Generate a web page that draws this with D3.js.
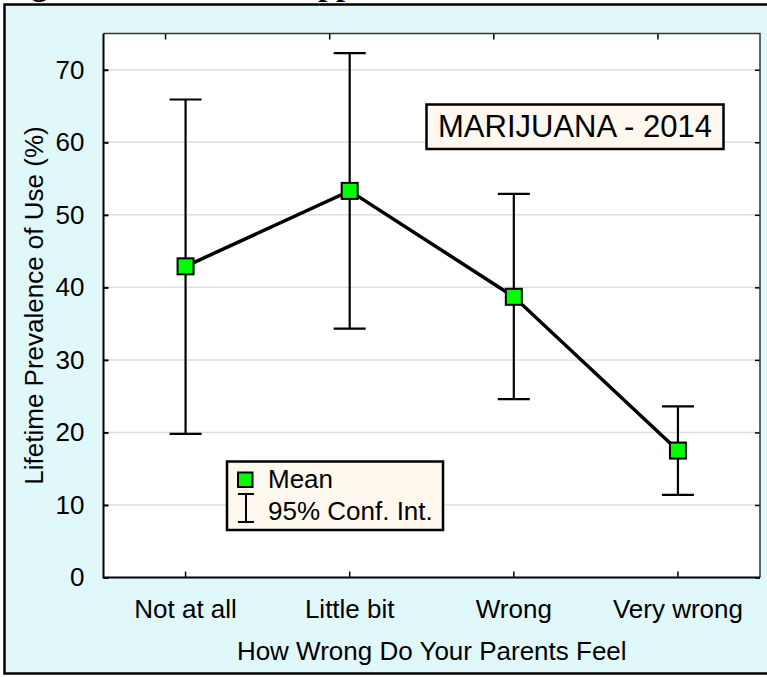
<!DOCTYPE html>
<html>
<head>
<meta charset="utf-8">
<script src="https://cdn.jsdelivr.net/npm/d3@7"></script>
<style>
  body { margin: 0; background: #fff; }
  svg text { font-family: "Liberation Sans", Arial, sans-serif; fill: #000; }
  .axis path.domain { display: none; }
</style>
</head>
<body>
<div id="chart"></div>
<script>
// Data
const categories = ["Not at all", "Little bit", "Wrong", "Very wrong"];
const means = [42.9, 53.3, 38.7, 17.5];
const upperCI = [65.9, 72.3, 52.9, 23.6];
const lowerCI = [19.8, 34.3, 24.6, 11.4];
const yTicks = [0, 10, 20, 30, 40, 50, 60, 70];

const W = 767, H = 677;
const plot = { left: 103.5, right: 760, top: 33.5, bottom: 577.5 };

const rows = categories.map((c, i) => ({ cat: c, mean: means[i], hi: upperCI[i], lo: lowerCI[i] }));

const svg = d3.select("#chart").append("svg")
    .attr("width", W)
    .attr("height", H);

// cut-off figure title above the frame
svg.append("text")
    .attr("x", 3)
    .attr("y", -5)
    .style("font-family", "'Liberation Serif', 'Times New Roman', serif")
    .style("font-weight", "bold")
    .style("font-size", "32px")
    .text("Figure 7. Parental Disapproval of Use, 2014");

// outer frame
svg.append("rect")
    .attr("x", 4.5)
    .attr("y", 4.5)
    .attr("width", 800)
    .attr("height", 669)
    .attr("fill", "#e0f8f9")
    .attr("stroke", "#000")
    .attr("stroke-width", 2.5);

// plot area
svg.append("rect")
    .attr("x", plot.left)
    .attr("y", plot.top)
    .attr("width", plot.right - plot.left)
    .attr("height", plot.bottom - plot.top)
    .attr("fill", "#fff");

const x = d3.scaleBand().domain(categories).range([plot.left, plot.right]).padding(0);
const y = d3.scaleLinear().domain([0, 75]).range([plot.bottom, plot.top]);
const cx = d => x(d) + x.bandwidth() / 2;

// gridlines
svg.append("g")
    .selectAll("line")
    .data(yTicks.filter(t => t > 0))
    .join("line")
    .attr("x1", plot.left)
    .attr("x2", plot.right)
    .attr("y1", d => y(d))
    .attr("y2", d => y(d))
    .attr("stroke", "#dedede")
    .attr("stroke-width", 1.5);

// left axis
const yAxis = svg.append("g")
    .attr("class", "axis")
    .attr("transform", `translate(${plot.left},0)`)
    .call(d3.axisLeft(y).tickValues(yTicks).tickSize(-5).tickPadding(19));
yAxis.selectAll("line").attr("stroke", "#000").attr("stroke-width", 2);
yAxis.selectAll("text").style("font-size", "26px");

// right axis ticks
const rAxis = svg.append("g")
    .attr("class", "axis")
    .attr("transform", `translate(${plot.right},0)`)
    .call(d3.axisRight(y).tickValues(yTicks).tickSize(-5).tickFormat(""));
rAxis.selectAll("line").attr("stroke", "#000").attr("stroke-width", 1.5);

// bottom axis
const xAxis = svg.append("g")
    .attr("class", "axis")
    .attr("transform", `translate(0,${plot.bottom})`)
    .call(d3.axisBottom(x).tickSize(-6).tickPadding(22));
xAxis.selectAll("line").attr("stroke", "#000").attr("stroke-width", 1.5);
xAxis.selectAll("text").style("font-size", "26px");

// top axis ticks (sit a little left of the categories in the original)
const tAxis = svg.append("g")
    .attr("class", "axis")
    .attr("transform", `translate(-20,${plot.top})`)
    .call(d3.axisTop(x).tickSize(-6).tickFormat(""));
tAxis.selectAll("line").attr("stroke", "#000").attr("stroke-width", 1.5);

// plot border
svg.append("path")
    .attr("d", `M${plot.left},${plot.top}H${plot.right}V${plot.bottom}`)
    .attr("fill", "none")
    .attr("stroke", "#333")
    .attr("stroke-width", 1.5);
svg.append("path")
    .attr("d", `M${plot.left},${plot.top}V${plot.bottom}H${plot.right}`)
    .attr("fill", "none")
    .attr("stroke", "#000")
    .attr("stroke-width", 2);

// axis titles
svg.append("text")
    .attr("transform", `translate(43,${(plot.top + plot.bottom) / 2}) rotate(-90)`)
    .attr("text-anchor", "middle")
    .style("font-size", "26px")
    .text("Lifetime Prevalence of Use (%)");

svg.append("text")
    .attr("x", (plot.left + plot.right) / 2)
    .attr("y", 660)
    .attr("text-anchor", "middle")
    .style("font-size", "26px")
    .text("How Wrong Do Your Parents Feel");

// error bars
const capW = 16;
const bars = svg.append("g").attr("stroke", "#000").attr("stroke-width", 2.2);
bars.selectAll(".whisker")
    .data(rows)
    .join("line")
    .attr("class", "whisker")
    .attr("x1", d => cx(d.cat))
    .attr("x2", d => cx(d.cat))
    .attr("y1", d => y(d.hi))
    .attr("y2", d => y(d.lo));
bars.selectAll(".capHi")
    .data(rows)
    .join("line")
    .attr("class", "capHi")
    .attr("x1", d => cx(d.cat) - capW)
    .attr("x2", d => cx(d.cat) + capW)
    .attr("y1", d => y(d.hi))
    .attr("y2", d => y(d.hi));
bars.selectAll(".capLo")
    .data(rows)
    .join("line")
    .attr("class", "capLo")
    .attr("x1", d => cx(d.cat) - capW)
    .attr("x2", d => cx(d.cat) + capW)
    .attr("y1", d => y(d.lo))
    .attr("y2", d => y(d.lo));

// mean line
svg.append("path")
    .datum(rows)
    .attr("fill", "none")
    .attr("stroke", "#000")
    .attr("stroke-width", 3.5)
    .attr("d", d3.line().x(d => cx(d.cat)).y(d => y(d.mean)));

// mean markers
svg.selectAll(".marker")
    .data(rows)
    .join("rect")
    .attr("class", "marker")
    .attr("x", d => cx(d.cat) - 8)
    .attr("y", d => y(d.mean) - 8)
    .attr("width", 16)
    .attr("height", 16)
    .attr("fill", "#00ff00")
    .attr("stroke", "#000")
    .attr("stroke-width", 2);

// title box
svg.append("rect")
    .attr("x", 426.5)
    .attr("y", 104.5)
    .attr("width", 297)
    .attr("height", 44.5)
    .attr("fill", "#fff8ee")
    .attr("stroke", "#000")
    .attr("stroke-width", 2.5);
svg.append("text")
    .attr("x", 575)
    .attr("y", 137)
    .attr("text-anchor", "middle")
    .style("font-size", "31px")
    .text("MARIJUANA - 2014");

// legend
const lg = svg.append("g");
lg.append("rect")
    .attr("x", 227)
    .attr("y", 461.5)
    .attr("width", 216)
    .attr("height", 68.5)
    .attr("fill", "#fff8ee")
    .attr("stroke", "#000")
    .attr("stroke-width", 2.5);
lg.append("rect")
    .attr("x", 238)
    .attr("y", 472.5)
    .attr("width", 14.5)
    .attr("height", 14.5)
    .attr("fill", "#00ff00")
    .attr("stroke", "#000")
    .attr("stroke-width", 2);
lg.append("text")
    .attr("x", 268)
    .attr("y", 488)
    .style("font-size", "26px")
    .text("Mean");
lg.append("path")
    .attr("d", "M238,494H254M246,494V522M238,522H254")
    .attr("fill", "none")
    .attr("stroke", "#000")
    .attr("stroke-width", 2);
lg.append("text")
    .attr("x", 268)
    .attr("y", 520)
    .style("font-size", "26px")
    .text("95% Conf. Int.");
</script>
</body>
</html>
